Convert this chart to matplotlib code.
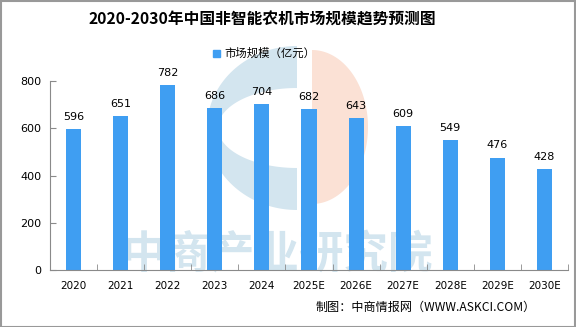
import matplotlib
matplotlib.use("Agg")
import matplotlib.pyplot as plt
from matplotlib.patches import Polygon, Rectangle
import numpy as np

plt.rcParams['font.family'] = ['Noto Sans CJK SC', 'DejaVu Sans']

# 数据
years = ["2020", "2021", "2022", "2023", "2024", "2025E", "2026E",
         "2027E", "2028E", "2029E", "2030E"]
values = [596, 651, 782, 686, 704, 682, 643, 609, 549, 476, 428]

bar_color = "#3f9ef2"
axis_color = "#8a8a8a"

fig = plt.figure(figsize=(5.76, 3.27), dpi=100)
W, H = 576, 327

def fx(px):
    return px / W

def fy(py):
    return 1 - py / H

# 水印 (在柱子后面)
ov = fig.add_axes([0, 0, 1, 1], zorder=0)
ov.set_xlim(0, W)
ov.set_ylim(H, 0)
ov.axis("off")

def half_ellipse(cx, cy, rx, ry, t0, t1, n=80):
    t = np.linspace(np.radians(t0), np.radians(t1), n)
    return np.column_stack([cx + rx * np.cos(t), cy - ry * np.sin(t)])

# 蓝色 "C"
outer = half_ellipse(297, 128, 90, 82, 90, 270)
inner = half_ellipse(297, 128, 79, 40, 270, 90)
ov.add_patch(Polygon(np.vstack([outer, inner]), closed=True, color="#d3e5ef", lw=0))
# 橙色半圆
ov.add_patch(Polygon(half_ellipse(312, 127, 56, 77, -90, 90), closed=True,
                     color="#fbe1d5", lw=0))
ov.text(277, 255, "中商产业研究院", ha="center", va="center", fontsize=32,
        fontweight="bold", color="#d3e5ef")

ax = fig.add_axes([fx(50), fy(270), fx(568) - fx(50), fy(81) - fy(270)], zorder=1)
ax.set_facecolor("none")

x = np.arange(len(years))
ax.bar(x, values, width=0.32, color=bar_color, zorder=2)
for xi, v in zip(x, values):
    ax.text(xi, v + 30, str(v), ha="center", va="bottom", fontsize=8,
            family=["DejaVu Sans"])

ax.set_xlim(-0.5, len(years) - 0.5)
ax.set_ylim(0, 800)
ax.set_yticks([0, 200, 400, 600, 800])
ax.set_xticks(x)
ax.set_xticklabels(years, fontsize=7.5, family=["DejaVu Sans"])
ax.set_xticks(np.arange(len(years) + 1) - 0.5, minor=True)
ax.tick_params(axis="x", which="major", length=0, pad=8)
ax.tick_params(axis="x", which="minor", length=4, color=axis_color, direction="in")
ax.tick_params(axis="y", length=4, color=axis_color, direction="in", labelsize=8, pad=6)
for lab in ax.get_yticklabels():
    lab.set_family(["DejaVu Sans"])

for s in ["top", "right"]:
    ax.spines[s].set_visible(False)
ax.spines["left"].set_color(axis_color)
ax.spines["bottom"].set_color(axis_color)

# 标题
fig.text(fx(262), fy(20), "2020-2030年中国非智能农机市场规模趋势预测图", ha="center",
         va="center", fontsize=11.3, fontweight="bold")

# 图例
fig.patches.append(Rectangle((fx(213), fy(57)), fx(7), 7 / H, color=bar_color,
                             transform=fig.transFigure))
fig.text(fx(224), fy(53), "市场规模（亿元）", ha="left", va="center", fontsize=8.2)

# 来源
fig.text(fx(316), fy(307), "制图：中商情报网（WWW.ASKCI.COM）", ha="left", va="center",
         fontsize=8.7)

# 边框
fig.patches.append(Rectangle((0.001, 0.001), 0.997, 0.996, fill=False,
                             edgecolor="#999999", lw=1.5,
                             transform=fig.transFigure))

fig.savefig("out.png", dpi=100)
